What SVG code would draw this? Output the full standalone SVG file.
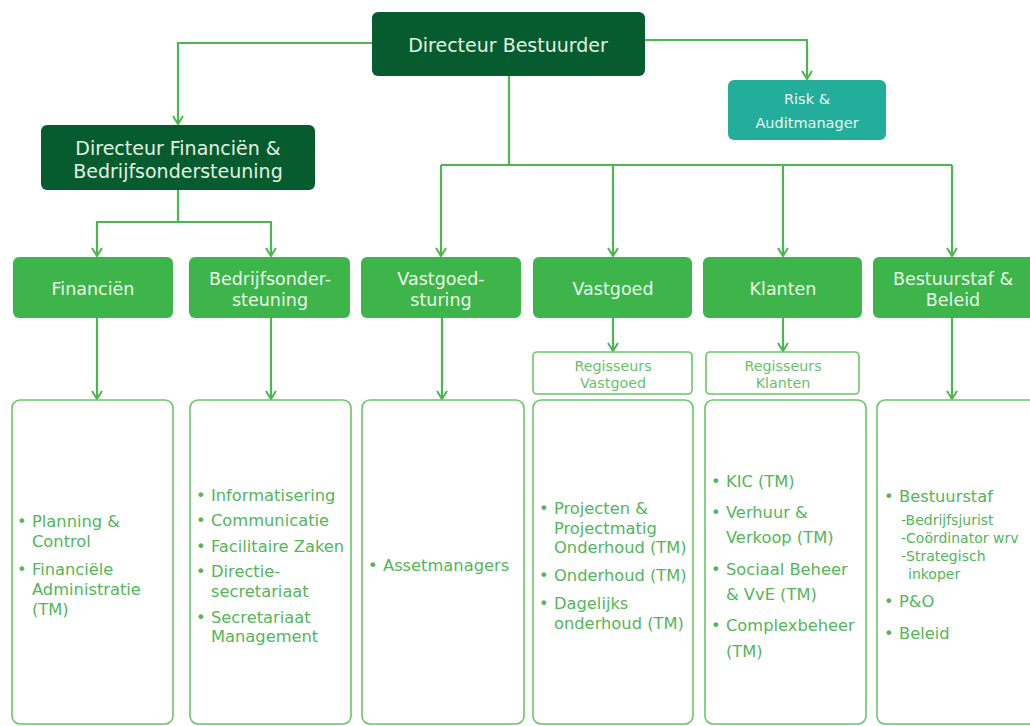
<svg xmlns="http://www.w3.org/2000/svg" width="1030" height="726" viewBox="0 0 1030 726">
<style>
.dark{fill:#065c2e}
.mid{fill:#3db54a}
.teal{fill:#22ae9b}
.outl{fill:#fff;stroke:#6cc46c;stroke-width:1.6}
.con{fill:none;stroke:#4cb653;stroke-width:2.2}
text{font-family:"DejaVu Sans","Verdana",sans-serif}
.tl{fill:#e3f2e3;font-size:19px;text-anchor:middle}
.tm{fill:#eaf7ea;font-size:17.5px;text-anchor:middle}
.tt{fill:#e8f7f4;font-size:14.5px;text-anchor:middle}
.tr{fill:#6cbf6c;font-size:14.3px;text-anchor:middle}
.li{fill:#55b55a;font-size:16.3px}
.ls{fill:#55b55a;font-size:14px}
</style>
<defs>
<marker id="ah" viewBox="0 0 10 12" refX="9" refY="6" markerWidth="10" markerHeight="12" markerUnits="userSpaceOnUse" orient="auto">
<path d="M1,1 L9,6 L1,11" fill="none" stroke="#4cb653" stroke-width="2"/>
</marker>
</defs>
<rect width="1030" height="726" fill="#fff"/>
<g id="connectors">
<path class="con" d="M372,43 H178 V124" marker-end="url(#ah)"/>
<path class="con" d="M645,40 H807 V79" marker-end="url(#ah)"/>
<path class="con" d="M509,76 V165 M441,165 H952"/>
<path class="con" d="M441,165 V256" marker-end="url(#ah)"/>
<path class="con" d="M613,165 V256" marker-end="url(#ah)"/>
<path class="con" d="M783,165 V256" marker-end="url(#ah)"/>
<path class="con" d="M952,165 V256" marker-end="url(#ah)"/>
<path class="con" d="M178,190 V222 H97 V256" marker-end="url(#ah)"/>
<path class="con" d="M178,222 H271 V256" marker-end="url(#ah)"/>
<path class="con" d="M97,318 V399" marker-end="url(#ah)"/>
<path class="con" d="M271,318 V399" marker-end="url(#ah)"/>
<path class="con" d="M442,318 V399" marker-end="url(#ah)"/>
<path class="con" d="M952,318 V399" marker-end="url(#ah)"/>
<path class="con" d="M613,318 V351" marker-end="url(#ah)"/>
<path class="con" d="M783,318 V351" marker-end="url(#ah)"/>
</g>
<g id="directeur-bestuurder">
<rect class="dark" x="372" y="12" width="273" height="64" rx="6"/>
<text class="tl" x="508" y="52">Directeur Bestuurder</text>
</g>
<g id="risk-audit">
<rect class="teal" x="728" y="80" width="158" height="60" rx="6"/>
<text class="tt" x="807" y="104">Risk &amp;</text>
<text class="tt" x="807" y="128">Auditmanager</text>
</g>
<g id="directeur-financien">
<rect class="dark" x="41" y="125" width="274" height="65" rx="6"/>
<text class="tl" x="178" y="155">Directeur Financiën &amp;</text>
<text class="tl" x="178" y="178">Bedrijfsondersteuning</text>
</g>
<g id="financien">
<rect class="mid" x="13" y="257" width="160" height="61" rx="6"/>
<text class="tm" x="93" y="295">Financiën</text>
</g>
<g id="bedrijfsondersteuning">
<rect class="mid" x="189" y="257" width="161" height="61" rx="6"/>
<text class="tm" x="270" y="285">Bedrijfsonder-</text>
<text class="tm" x="270" y="306">steuning</text>
</g>
<g id="vastgoedsturing">
<rect class="mid" x="361" y="257" width="160" height="61" rx="6"/>
<text class="tm" x="441" y="285">Vastgoed-</text>
<text class="tm" x="441" y="306">sturing</text>
</g>
<g id="vastgoed">
<rect class="mid" x="533" y="257" width="159" height="61" rx="6"/>
<text class="tm" x="613" y="295">Vastgoed</text>
</g>
<g id="klanten">
<rect class="mid" x="703" y="257" width="159" height="61" rx="6"/>
<text class="tm" x="783" y="295">Klanten</text>
</g>
<g id="bestuurstaf">
<rect class="mid" x="873" y="257" width="162" height="61" rx="6"/>
<text class="tm" x="953" y="285">Bestuurstaf &amp;</text>
<text class="tm" x="953" y="306">Beleid</text>
</g>
<g id="regisseurs-vastgoed">
<rect class="outl" x="533" y="352" width="159" height="42" rx="4"/>
<text class="tr" x="613" y="371">Regisseurs</text>
<text class="tr" x="613" y="388">Vastgoed</text>
</g>
<g id="regisseurs-klanten">
<rect class="outl" x="706" y="352" width="153" height="42" rx="4"/>
<text class="tr" x="783" y="371">Regisseurs</text>
<text class="tr" x="783" y="388">Klanten</text>
</g>
<g id="lijst-financien">
<rect class="outl" x="12" y="400" width="161" height="324" rx="8"/>
<text class="li" x="17" y="527">•</text>
<text class="li" x="32" y="527">Planning &amp;</text>
<text class="li" x="32" y="547">Control</text>
<text class="li" x="17" y="575">•</text>
<text class="li" x="32" y="575">Financiële</text>
<text class="li" x="32" y="595">Administratie</text>
<text class="li" x="32" y="615">(TM)</text>
</g>
<g id="lijst-bedrijfsondersteuning">
<rect class="outl" x="190" y="400" width="161" height="324" rx="8"/>
<text class="li" x="196" y="501">•</text>
<text class="li" x="211" y="501">Informatisering</text>
<text class="li" x="196" y="526">•</text>
<text class="li" x="211" y="526">Communicatie</text>
<text class="li" x="196" y="552">•</text>
<text class="li" x="211" y="552">Facilitaire Zaken</text>
<text class="li" x="196" y="577">•</text>
<text class="li" x="211" y="577">Directie-</text>
<text class="li" x="211" y="597">secretariaat</text>
<text class="li" x="196" y="623">•</text>
<text class="li" x="211" y="623">Secretariaat</text>
<text class="li" x="211" y="642">Management</text>
</g>
<g id="lijst-vastgoedsturing">
<rect class="outl" x="362" y="400" width="162" height="324" rx="8"/>
<text class="li" x="368" y="571">•</text>
<text class="li" x="383" y="571">Assetmanagers</text>
</g>
<g id="lijst-vastgoed">
<rect class="outl" x="533" y="400" width="160" height="324" rx="8"/>
<text class="li" x="539" y="514">•</text>
<text class="li" x="554" y="514">Projecten &amp;</text>
<text class="li" x="554" y="534">Projectmatig</text>
<text class="li" x="554" y="553">Onderhoud (TM)</text>
<text class="li" x="539" y="581">•</text>
<text class="li" x="554" y="581">Onderhoud (TM)</text>
<text class="li" x="539" y="609">•</text>
<text class="li" x="554" y="609">Dagelijks</text>
<text class="li" x="554" y="629">onderhoud (TM)</text>
</g>
<g id="lijst-klanten">
<rect class="outl" x="705" y="400" width="161" height="324" rx="8"/>
<text class="li" x="711" y="487">•</text>
<text class="li" x="726" y="487">KIC (TM)</text>
<text class="li" x="711" y="518">•</text>
<text class="li" x="726" y="518">Verhuur &amp;</text>
<text class="li" x="726" y="543">Verkoop (TM)</text>
<text class="li" x="711" y="575">•</text>
<text class="li" x="726" y="575">Sociaal Beheer</text>
<text class="li" x="726" y="600">&amp; VvE (TM)</text>
<text class="li" x="711" y="631">•</text>
<text class="li" x="726" y="631">Complexbeheer</text>
<text class="li" x="726" y="657">(TM)</text>
</g>
<g id="lijst-bestuurstaf">
<rect class="outl" x="877" y="400" width="162" height="324" rx="8"/>
<text class="li" x="884" y="502">•</text>
<text class="li" x="899" y="502">Bestuurstaf</text>
<text class="ls" x="901" y="525">-Bedrijfsjurist</text>
<text class="ls" x="901" y="543">-Coördinator wrv</text>
<text class="ls" x="901" y="561">-Strategisch</text>
<text class="ls" x="908" y="579">inkoper</text>
<text class="li" x="884" y="607">•</text>
<text class="li" x="899" y="607">P&amp;O</text>
<text class="li" x="884" y="639">•</text>
<text class="li" x="899" y="639">Beleid</text>
</g>
</svg>
